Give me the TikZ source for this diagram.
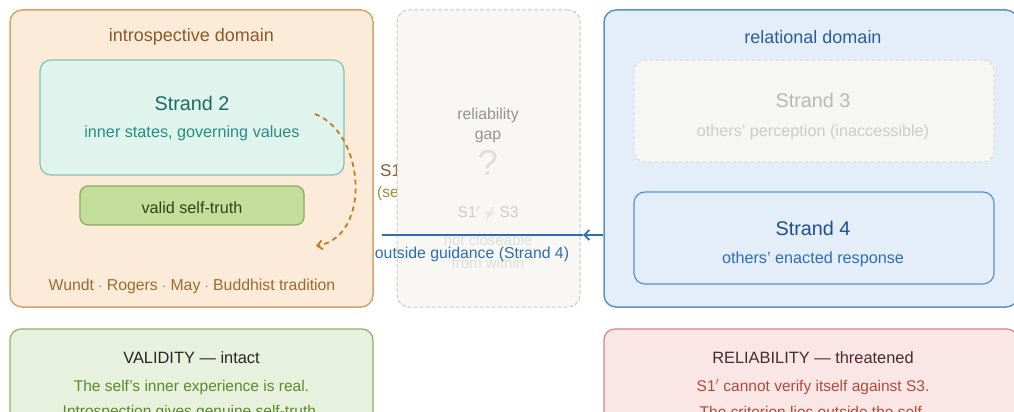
\documentclass[tikz,border=0pt]{standalone}
\usepackage{fontspec}
\setmainfont{Liberation Sans}
\usetikzlibrary{arrows.meta}
\definecolor{introfill}{HTML}{FBEBD8}
\definecolor{introline}{HTML}{D4A46C}
\definecolor{introtext}{HTML}{8A5A2A}
\definecolor{tealfill}{HTML}{E0F4EE}
\definecolor{tealline}{HTML}{86C2AE}
\definecolor{tealdark}{HTML}{1E6B62}
\definecolor{tealtext}{HTML}{2A8C80}
\definecolor{greenfill}{HTML}{C3DE9A}
\definecolor{greenline}{HTML}{86AE5E}
\definecolor{greendark}{HTML}{2E4418}
\definecolor{looporange}{HTML}{C27C22}
\definecolor{namebrown}{HTML}{9C6B32}
\definecolor{olive}{HTML}{9A8A3A}
\definecolor{gapfill}{HTML}{F8F7F3}
\definecolor{gapline}{HTML}{CACACA}
\definecolor{relfill}{HTML}{E4EEF9}
\definecolor{relline}{HTML}{5E90CF}
\definecolor{reltext}{HTML}{2B5C9C}
\definecolor{hidfill}{HTML}{F6F6F5}
\definecolor{hidline}{HTML}{DCDCDC}
\definecolor{guideblue}{HTML}{2E6DB4}
\definecolor{darkblue}{HTML}{1F4E8C}
\definecolor{valfill}{HTML}{E7F1DD}
\definecolor{valline}{HTML}{8CB06C}
\definecolor{valtext}{HTML}{5A8A2A}
\definecolor{relyfill}{HTML}{FBE6E6}
\definecolor{relyline}{HTML}{D08484}
\definecolor{relytext}{HTML}{B04A3A}
\definecolor{relydark}{HTML}{4A2A2A}
\newcommand{\px}[1]{\fontsize{#1}{#1}\selectfont}
\begin{document}
\begin{tikzpicture}[x=1pt,y=-1pt]
            \tikzstyle{domainbox}=[draw, rounded corners=12pt, line width=1.5pt, inner sep=0pt]
            \tikzstyle{strandbox}=[draw, rounded corners=11pt, line width=1.2pt, inner sep=0pt]
            \tikzstyle{txt}=[inner sep=0pt]
            \useasboundingbox (0,0) rectangle (1014,412);
            \clip (0,0) rectangle (1014,412);
            % introspective side
            \node[domainbox, fill=introfill, draw=introline, minimum width=363pt, minimum height=297pt] (intro) at (191.5,158.5) {};
            \node[txt, text=introtext] (introT) at (191.5,37) {\px{18}introspective domain};
            \node[strandbox, fill=tealfill, draw=tealline, minimum width=304pt, minimum height=115pt] (s2) at (192,117.5) {};
            \node[txt, text=tealdark] (s2T) at (192,103) {\px{19.8}Strand 2};
            \node[txt, text=tealtext] (s2D) at (192,133) {\px{16.2}inner states, governing values};
            \node[strandbox, rounded corners=8pt, fill=greenfill, draw=greenline, minimum width=224pt, minimum height=39pt] (valid) at (192,205.5) {};
            \node[txt, text=greendark] (validT) at (192,208) {\px{16.2}valid self-truth};
            \node[txt, text=namebrown] (names) at (192,286) {\px{15.8}Wundt $\cdot$ Rogers $\cdot$ May $\cdot$ Buddhist tradition};
            \coordinate (loopA) at (315,114);
            \coordinate (loopB) at (316,246);
            \draw[looporange, line width=1.8pt, dash pattern=on 5pt off 4pt, -{Straight Barb[length=5pt, width=9pt]}] (loopA) .. controls (365,133) and (372,236) .. (loopB);
            \node[txt, anchor=west, text=introtext] (s1T) at (380,170) {\px{17}S1$'$};
            \node[txt, anchor=west, text=olive] (s1D) at (377,193) {\px{15.5}(self)};
            % gap
            \node[draw=gapline, fill=gapfill, dash pattern=on 4pt off 2pt, line width=1pt, rounded corners=12pt, minimum width=183pt, minimum height=297pt, inner sep=0pt] (gap) at (488.5,158.5) {};
            \node[txt, text=black!42] (gapT) at (488,115) {\px{15.8}reliability};
            \node[txt, text=black!42] (gapT2) at (488,137) {\px{15.8}gap};
            \node[txt, text=black!13] (qm) at (488,163) {\px{36}?};
            \node[txt, text=black!20] (neq) at (488,213) {\px{15.5}S1$'$ $\neq$ S3};
            \node[txt, text=black!13] (nc) at (488,240) {\px{15}not closeable};
            \node[txt, text=black!13] (fw) at (488,263) {\px{15}from within};
            % relational side
            \node[domainbox, fill=relfill, draw=relline, minimum width=414pt, minimum height=297pt] (rel) at (811,158.5) {};
            \node[txt, text=reltext] (relT) at (813,37) {\px{18}relational domain};
            \node[strandbox, fill=hidfill, draw=hidline, dashed, minimum width=360pt, minimum height=102pt] (s3) at (814,111) {};
            \node[txt, text=black!28] (s3T) at (813,100) {\px{19.8}Strand 3};
            \node[txt, text=black!20] (s3D) at (813,132) {\px{16.2}others' perception (inaccessible)};
            \node[strandbox, fill=relfill, draw=relline, minimum width=360pt, minimum height=92pt] (s4) at (814,238) {};
            \node[txt, text=darkblue] (s4T) at (813,228) {\px{19.8}Strand 4};
            \node[txt, text=guideblue] (s4D) at (813,259) {\px{16.2}others' enacted response};
            % guidance arrow
            \coordinate (gTip) at (583,235);
            \coordinate (gEnd) at (382,235);
            \draw[guideblue, line width=1.8pt, -{Straight Barb[length=5pt, width=10pt]}] (rel.west |- gTip) -- (gTip);
            \draw[guideblue, line width=1.8pt] (gTip) -- (gEnd);
            \node[txt, text=guideblue] (gL) at (472,254) {\px{15.8}outside guidance (Strand 4)};
            % verdicts
            \node[strandbox, fill=valfill, draw=valline, minimum width=363pt, minimum height=110pt] (vBox) at (191.5,384) {};
            \node[txt, text=black!85] (vT) at (191.5,358) {\px{16.4}VALIDITY --- intact};
            \node[txt, text=valtext] (vD) at (191.5,387) {\px{15.5}The self's inner experience is real.};
            \node[txt, text=valtext] (vD2) at (191.5,412) {\px{15.5}Introspection gives genuine self-truth.};
            \node[strandbox, fill=relyfill, draw=relyline, minimum width=414pt, minimum height=110pt] (rBox) at (811,384) {};
            \node[txt, text=relydark] (rT) at (813,358) {\px{16.4}RELIABILITY --- threatened};
            \node[txt, text=relytext] (rD) at (813,387) {\px{15.5}S1$'$ cannot verify itself against S3.};
            \node[txt, text=relytext] (rD2) at (813,412) {\px{15.5}The criterion lies outside the self.};
\end{tikzpicture}
\end{document}
